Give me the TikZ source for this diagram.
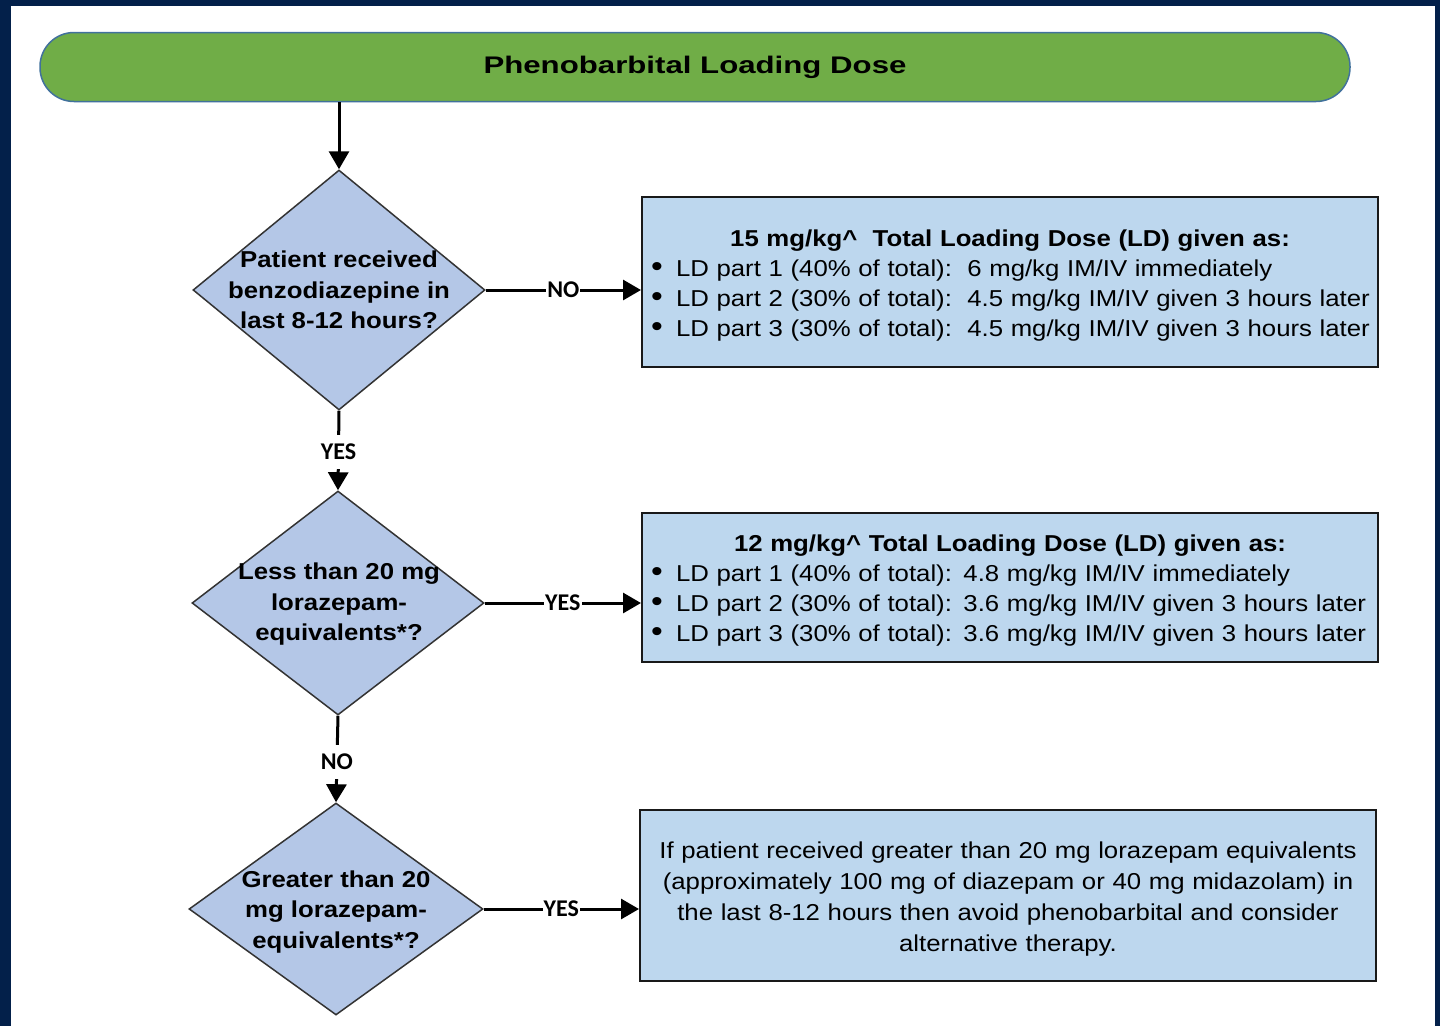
\documentclass[tikz,border=0pt]{standalone}
\usepackage{fontspec}
\setmainfont{Liberation Sans}
\newfontfamily\boxfont{Liberation Sans}[FakeStretch=1.12]
\newfontfamily\ttlfont{Liberation Sans}[FakeStretch=1.3]
\newfontfamily\lblfont{Carlito}
\usetikzlibrary{shapes.geometric,arrows.meta}
\definecolor{navy}{HTML}{03204A}
\definecolor{bannergreen}{HTML}{70AD47}
\definecolor{bannerline}{HTML}{41719C}
\definecolor{diafill}{HTML}{B4C7E7}
\definecolor{boxfill}{HTML}{BDD7EE}
\newcommand{\blt}{\makebox[26pt][l]{\hspace{1pt}\scalebox{1.3}{\textbullet}}}
\newcommand{\bline}[1]{\makebox[720pt][l]{\blt #1}}
\newcommand{\topstrut}{\rule{0pt}{23pt}}
\tikzset{
  banner/.style={draw=bannerline, line width=1.5pt, fill=bannergreen, rounded corners=34pt,
    minimum width=1310pt, minimum height=69pt, inner sep=0pt,
    font=\ttlfont\bfseries\fontsize{24}{28}\selectfont},
  dia/.style={diamond, draw=black!80, line width=1.5pt, fill=diafill, inner sep=0pt},
  dtext/.style={align=center, inner sep=0pt, font=\boxfont\bfseries\fontsize{23}{30.5}\selectfont},
  box/.style={draw=black!90, line width=2pt, fill=boxfill, minimum width=736pt,
    text width=720pt, inner xsep=8pt, inner ysep=0pt,
    font=\boxfont\fontsize{23}{30}\selectfont},
  arr/.style={line width=3pt, -{Triangle[length=18pt,width=20pt]}},
  lbl/.style={fill=white, inner xsep=1pt, inner ysep=9pt,
    font=\lblfont\bfseries\fontsize{24}{26}\selectfont}
}
\begin{document}
\begin{tikzpicture}[x=1pt,y=-1pt]
\fill[navy] (0,0) rectangle (1440,1026);
\fill[white] (11,6) rectangle (1435,1026);
\useasboundingbox (0,0) rectangle (1440,1026);

\node[banner] (ttl) at (695,67) {Phenobarbital Loading Dose};

\node[dia, minimum width=292pt, minimum height=240pt] (d1) at (339,290) {};
\node[dtext] (t1) at (d1.center) {Patient received\\benzodiazepine in\\last 8-12 hours?};

\node[dia, minimum width=292pt, minimum height=224pt] (d2) at (338,603) {};
\node[dtext] (t2) at (339,604.5) {Less than 20 mg\\lorazepam-\\equivalents*?};

\node[dia, minimum width=294pt, minimum height=212pt] (d3) at (336,909) {};
\node[dtext] (t3) at (336,912) {Greater than 20\\mg lorazepam-\\equivalents*?};

\node[box, minimum height=170pt, align=left] (b1) at (1010,282) {%
{\bfseries\makebox[720pt]{\topstrut 15 mg/kg\textasciicircum\ \ Total Loading Dose (LD) given as:}}\\
\bline{LD part 1 (40\% of total):\ \ 6 mg/kg IM/IV immediately}\\
\bline{LD part 2 (30\% of total):\ \ 4.5 mg/kg IM/IV given 3 hours later}\\
\bline{LD part 3 (30\% of total):\ \ 4.5 mg/kg IM/IV given 3 hours later}};

\node[box, minimum height=149pt, align=left] (b2) at (1010,587.5) {%
{\bfseries\makebox[720pt]{\topstrut 12 mg/kg\textasciicircum\ Total Loading Dose (LD) given as:}}\\
\bline{LD part 1 (40\% of total): 4.8 mg/kg IM/IV immediately}\\
\bline{LD part 2 (30\% of total): 3.6 mg/kg IM/IV given 3 hours later}\\
\bline{LD part 3 (30\% of total): 3.6 mg/kg IM/IV given 3 hours later}};

\node[box, minimum height=171pt, align=center, font=\boxfont\fontsize{23}{31}\selectfont] (b3) at (1008,895.5) {%
\topstrut If patient received greater than 20 mg lorazepam equivalents\\
(approximately 100 mg of diazepam or 40 mg midazolam) in\\
the last 8-12 hours then avoid phenobarbital and consider\\
alternative therapy.};

\draw[arr] (d1.north |- ttl.south) -- (d1.north);
\draw[arr] (d1.south) -- (d2.north) node[pos=0.52, lbl] {YES};
\draw[arr] (d2.south) -- (d3.north) node[pos=0.53, lbl] {NO};
\draw[arr] (d1.east) -- (d1.east -| b1.west) node[midway, lbl] {NO};
\draw[arr] (d2.east) -- (d2.east -| b2.west) node[midway, lbl] {YES};
\draw[arr] (d3.east) -- (d3.east -| b3.west) node[midway, lbl] {YES};
\end{tikzpicture}
\end{document}
